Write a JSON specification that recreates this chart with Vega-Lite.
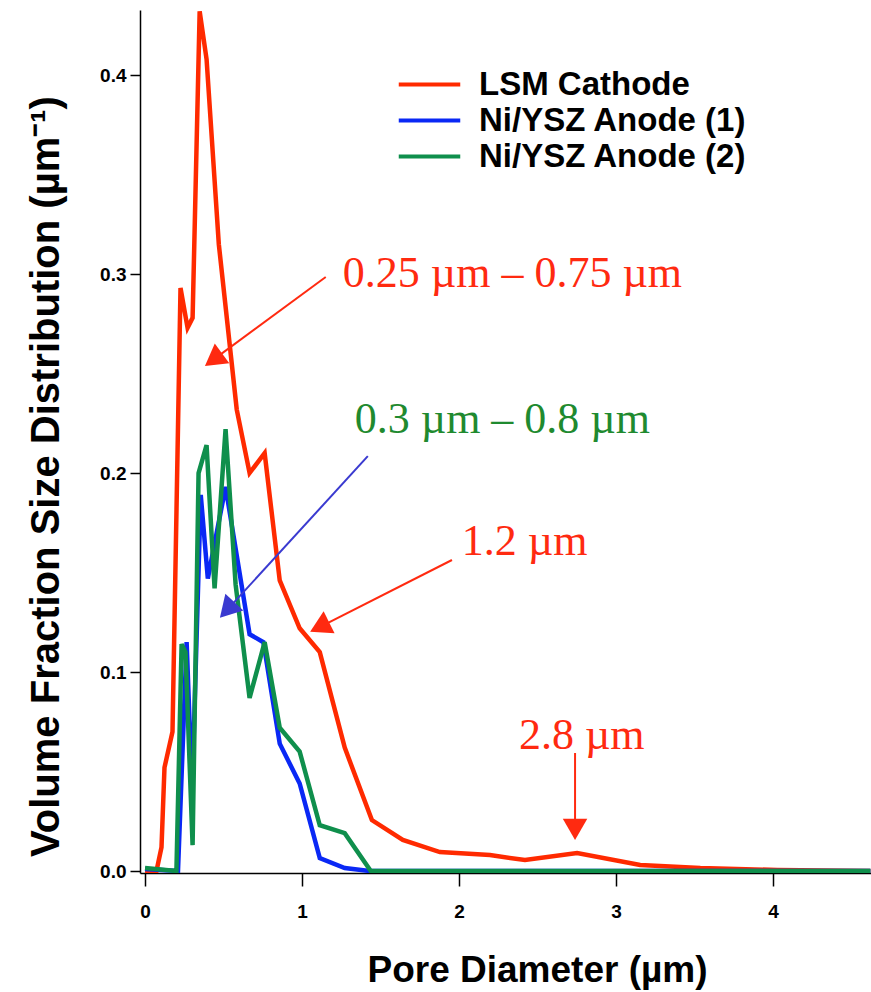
{
  "$schema": "https://vega.github.io/schema/vega-lite/v6.json",
  "width": 731,
  "height": 863,
  "autosize": "none",
  "padding": {"left": 140, "top": 10, "right": 0, "bottom": 119},
  "background": "white",
  "config": {
    "view": {"stroke": null},
    "axis": {
      "grid": false,
      "domainColor": "black",
      "domainWidth": 1.5,
      "tickColor": "black",
      "tickWidth": 1.5,
      "labelFont": "Liberation Sans",
      "labelFontWeight": "bold",
      "labelFontSize": 19,
      "labelColor": "black",
      "titleFont": "Liberation Sans",
      "titleFontWeight": "bold",
      "titleColor": "black"
    }
  },
  "layer": [
    {
      "data": {"values": [
        {"series": "LSM Cathode", "d": 0, "v": 0},
        {"series": "LSM Cathode", "d": 0.073, "v": 0},
        {"series": "LSM Cathode", "d": 0.105, "v": 0.012},
        {"series": "LSM Cathode", "d": 0.124, "v": 0.052},
        {"series": "LSM Cathode", "d": 0.175, "v": 0.070},
        {"series": "LSM Cathode", "d": 0.226, "v": 0.293},
        {"series": "LSM Cathode", "d": 0.271, "v": 0.273},
        {"series": "LSM Cathode", "d": 0.303, "v": 0.278},
        {"series": "LSM Cathode", "d": 0.348, "v": 0.432},
        {"series": "LSM Cathode", "d": 0.392, "v": 0.408},
        {"series": "LSM Cathode", "d": 0.47, "v": 0.315},
        {"series": "LSM Cathode", "d": 0.584, "v": 0.232},
        {"series": "LSM Cathode", "d": 0.666, "v": 0.200},
        {"series": "LSM Cathode", "d": 0.762, "v": 0.210},
        {"series": "LSM Cathode", "d": 0.858, "v": 0.146},
        {"series": "LSM Cathode", "d": 0.985, "v": 0.122},
        {"series": "LSM Cathode", "d": 1.113, "v": 0.110},
        {"series": "LSM Cathode", "d": 1.272, "v": 0.062},
        {"series": "LSM Cathode", "d": 1.445, "v": 0.0256},
        {"series": "LSM Cathode", "d": 1.642, "v": 0.0156},
        {"series": "LSM Cathode", "d": 1.878, "v": 0.0095},
        {"series": "LSM Cathode", "d": 2.197, "v": 0.008},
        {"series": "LSM Cathode", "d": 2.420, "v": 0.0055},
        {"series": "LSM Cathode", "d": 2.752, "v": 0.009},
        {"series": "LSM Cathode", "d": 3.154, "v": 0.003},
        {"series": "LSM Cathode", "d": 3.537, "v": 0.0015},
        {"series": "LSM Cathode", "d": 4.028, "v": 0.0005},
        {"series": "LSM Cathode", "d": 4.62, "v": 0},
        {"series": "Ni/YSZ Anode (1)", "d": 0, "v": 0.001},
        {"series": "Ni/YSZ Anode (1)", "d": 0.21, "v": 0},
        {"series": "Ni/YSZ Anode (1)", "d": 0.265, "v": 0.115},
        {"series": "Ni/YSZ Anode (1)", "d": 0.30, "v": 0.04},
        {"series": "Ni/YSZ Anode (1)", "d": 0.355, "v": 0.189},
        {"series": "Ni/YSZ Anode (1)", "d": 0.400, "v": 0.147},
        {"series": "Ni/YSZ Anode (1)", "d": 0.513, "v": 0.193},
        {"series": "Ni/YSZ Anode (1)", "d": 0.666, "v": 0.119},
        {"series": "Ni/YSZ Anode (1)", "d": 0.754, "v": 0.115},
        {"series": "Ni/YSZ Anode (1)", "d": 0.858, "v": 0.064},
        {"series": "Ni/YSZ Anode (1)", "d": 0.985, "v": 0.044},
        {"series": "Ni/YSZ Anode (1)", "d": 1.113, "v": 0.0065},
        {"series": "Ni/YSZ Anode (1)", "d": 1.272, "v": 0.0015},
        {"series": "Ni/YSZ Anode (1)", "d": 1.43, "v": 0},
        {"series": "Ni/YSZ Anode (1)", "d": 4.62, "v": 0},
        {"series": "Ni/YSZ Anode (2)", "d": 0, "v": 0.0015},
        {"series": "Ni/YSZ Anode (2)", "d": 0.2, "v": 0},
        {"series": "Ni/YSZ Anode (2)", "d": 0.233, "v": 0.114},
        {"series": "Ni/YSZ Anode (2)", "d": 0.258, "v": 0.110},
        {"series": "Ni/YSZ Anode (2)", "d": 0.303, "v": 0.013},
        {"series": "Ni/YSZ Anode (2)", "d": 0.341, "v": 0.200},
        {"series": "Ni/YSZ Anode (2)", "d": 0.392, "v": 0.214},
        {"series": "Ni/YSZ Anode (2)", "d": 0.443, "v": 0.142},
        {"series": "Ni/YSZ Anode (2)", "d": 0.513, "v": 0.222},
        {"series": "Ni/YSZ Anode (2)", "d": 0.577, "v": 0.144},
        {"series": "Ni/YSZ Anode (2)", "d": 0.666, "v": 0.087},
        {"series": "Ni/YSZ Anode (2)", "d": 0.762, "v": 0.115},
        {"series": "Ni/YSZ Anode (2)", "d": 0.858, "v": 0.072},
        {"series": "Ni/YSZ Anode (2)", "d": 0.985, "v": 0.060},
        {"series": "Ni/YSZ Anode (2)", "d": 1.113, "v": 0.023},
        {"series": "Ni/YSZ Anode (2)", "d": 1.272, "v": 0.019},
        {"series": "Ni/YSZ Anode (2)", "d": 1.438, "v": 0},
        {"series": "Ni/YSZ Anode (2)", "d": 4.62, "v": 0}
      ]},
      "mark": {"type": "line", "strokeWidth": 4.5, "strokeJoin": "miter", "clip": true},
      "encoding": {
        "x": {"field": "d", "type": "quantitative",
          "scale": {"domain": [-0.032, 4.624], "nice": false, "zero": false},
          "axis": {"values": [0, 1, 2, 3, 4], "format": "d", "tickSize": 13, "labelPadding": 16,
            "title": "Pore Diameter (µm)", "titleFontSize": 37, "titleX": 397, "titleY": 108,
            "titleBaseline": "alphabetic", "titleAlign": "center", "titleAnchor": "middle"}},
        "y": {"field": "v", "type": "quantitative",
          "scale": {"domain": [-0.001, 0.4327], "nice": false, "zero": false},
          "axis": {"values": [0, 0.1, 0.2, 0.3, 0.4], "format": ".1f", "tickSize": 10, "labelPadding": 4,
            "title": "Volume Fraction Size Distribution (µm⁻¹)", "titleFontSize": 40, "titleX": -94, "titleY": 466,
            "titleBaseline": "middle", "titleAlign": "center", "titleAngle": -90}},
        "color": {"field": "series", "type": "nominal",
          "scale": {"domain": ["LSM Cathode", "Ni/YSZ Anode (1)", "Ni/YSZ Anode (2)"], "range": ["#ff2a00", "#0a28f5", "#0f8f4c"]},
          "legend": {"orient": "none", "legendX": 273, "legendY": 58, "title": null,
            "symbolType": "M-4.1,0H4.1", "symbolStrokeWidth": 4, "symbolSize": 225,
            "labelFont": "Liberation Sans", "labelFontWeight": "bold", "labelFontSize": 33, "labelColor": "black",
            "labelLimit": 0, "labelOffset": 33, "rowPadding": 2}}
      }
    },
    {
      "data": {"values": [
        {"x": 1.151, "y": 0.2985, "x2": 0.436, "y2": 0.257},
        {"x": 1.955, "y": 0.1563, "x2": 1.112, "y2": 0.1226},
        {"x": 2.739, "y": 0.0593, "x2": 2.739, "y2": 0.0209}
      ]},
      "mark": {"type": "rule", "color": "#ff2a10", "strokeWidth": 2},
      "encoding": {
        "x": {"field": "x", "type": "quantitative"},
        "y": {"field": "y", "type": "quantitative"},
        "x2": {"field": "x2"},
        "y2": {"field": "y2"}
      }
    },
    {
      "data": {"values": [{"x": 1.419, "y": 0.2085, "x2": 0.523, "y2": 0.1312}]},
      "mark": {"type": "rule", "color": "#3a3ad0", "strokeWidth": 2},
      "encoding": {
        "x": {"field": "x", "type": "quantitative"},
        "y": {"field": "y", "type": "quantitative"},
        "x2": {"field": "x2"},
        "y2": {"field": "y2"}
      }
    },
    {
      "data": {"values": [{"x": 0.436, "y": 0.257}]},
      "mark": {"type": "point", "shape": "triangle-up", "filled": true, "opacity": 1, "color": "#ff2a10", "size": 600, "angle": 233.7},
      "encoding": {"x": {"field": "x", "type": "quantitative"}, "y": {"field": "y", "type": "quantitative"}}
    },
    {
      "data": {"values": [{"x": 0.523, "y": 0.1312}]},
      "mark": {"type": "point", "shape": "triangle-up", "filled": true, "opacity": 1, "color": "#3a3ad0", "size": 600, "angle": 222.8},
      "encoding": {"x": {"field": "x", "type": "quantitative"}, "y": {"field": "y", "type": "quantitative"}}
    },
    {
      "data": {"values": [{"x": 1.112, "y": 0.1226}]},
      "mark": {"type": "point", "shape": "triangle-up", "filled": true, "opacity": 1, "color": "#ff2a10", "size": 600, "angle": 243.4},
      "encoding": {"x": {"field": "x", "type": "quantitative"}, "y": {"field": "y", "type": "quantitative"}}
    },
    {
      "data": {"values": [{"x": 2.739, "y": 0.0209}]},
      "mark": {"type": "point", "shape": "triangle-up", "filled": true, "opacity": 1, "color": "#ff2a10", "size": 600, "angle": 180},
      "encoding": {"x": {"field": "x", "type": "quantitative"}, "y": {"field": "y", "type": "quantitative"}}
    },
    {
      "data": {"values": [
        {"label": "0.25 µm – 0.75 µm", "x": 1.26, "y": 0.2935},
        {"label": "1.2 µm", "x": 2.018, "y": 0.1588},
        {"label": "2.8 µm", "x": 2.382, "y": 0.0615}
      ]},
      "mark": {"type": "text", "align": "left", "baseline": "alphabetic", "font": "Liberation Serif", "fontSize": 44, "color": "#ff2a10"},
      "encoding": {"x": {"field": "x", "type": "quantitative"}, "y": {"field": "y", "type": "quantitative"}, "text": {"field": "label"}}
    },
    {
      "data": {"values": [{"label": "0.3 µm – 0.8 µm", "x": 1.336, "y": 0.2201}]},
      "mark": {"type": "text", "align": "left", "baseline": "alphabetic", "font": "Liberation Serif", "fontSize": 44, "color": "#1f8a2f"},
      "encoding": {"x": {"field": "x", "type": "quantitative"}, "y": {"field": "y", "type": "quantitative"}, "text": {"field": "label"}}
    }
  ]
}
